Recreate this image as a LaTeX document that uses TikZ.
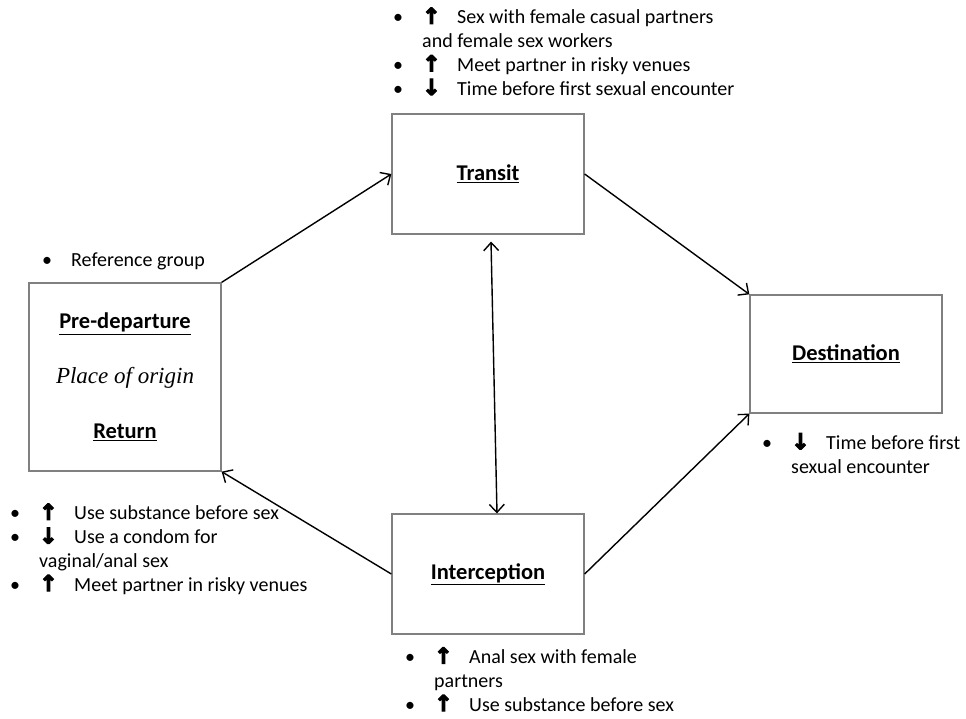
\documentclass[tikz,border=0pt]{standalone}
\usepackage{fontspec}
\setmainfont{Carlito}
\newfontface\arrowfont{DejaVu Sans Bold}[FakeBold=5]
\newfontfamily\timesfont{Liberation Serif}
\usetikzlibrary{arrows.meta,calc}

\newcommand{\basefont}{\fontsize{20}{23.7}\selectfont}
\newcommand{\up}{{\arrowfont\fontsize{22}{23.7}\selectfont ↑}}
\newcommand{\dn}{{\arrowfont\fontsize{22}{23.7}\selectfont ↓}}
\newcommand{\bul}{\makebox[29pt][l]{\textbullet}}
\newcommand{\litem}[2]{\bul\makebox[35pt][l]{#1}#2}
\newcommand{\wrapline}{\hspace*{29pt}}

\begin{document}
\begin{tikzpicture}[x=1pt, y=-1pt,
    stage/.style={rectangle, draw=gray, line width=1.3pt, align=center, font=\fontsize{22.5}{27}\selectfont\bfseries},
    flow/.style={-{Straight Barb[length=8pt,width=15pt,line width=1.4pt]}, line width=1.4pt},
    notes/.style={align=left, inner sep=0pt, anchor=base west, font=\basefont}
]
    \useasboundingbox (0,0) rectangle (966,718);

    \node[stage, minimum width=192pt, minimum height=120pt] (transit) at (488,174) {\underline{Transit}};
    \node[stage, minimum width=192pt, minimum height=188pt] (pre) at (125,377) {
        \underline{Pre-departure}\\[28pt]
        {\timesfont\mdseries\itshape\fontsize{23}{27}\selectfont Place of origin}\\[28pt]
        \underline{Return}
    };
    \node[stage, minimum width=192pt, minimum height=118pt] (dest) at (846,354) {\underline{Destination}};
    \node[stage, minimum width=192pt, minimum height=120pt] (inter) at (488,574) {\underline{Interception}};

    \draw[flow] (pre.north east) -- (transit.west);
    \draw[flow] (transit.east) -- (dest.north west);
    \draw[flow] (inter.east) -- (dest.south west);
    \draw[flow] (inter.west) -- (pre.south east);
    \draw[flow, {Straight Barb[length=8pt,width=15pt,line width=1.4pt]}-{Straight Barb[length=8pt,width=15pt,line width=1.4pt]}]
        ([xshift=3pt,yshift=-7pt]transit.south) -- ([xshift=9pt]inter.north);

    % Notes next to each stage
    \node[notes] (transitnotes) at (393,95) {
        \litem{\up}{Sex with female casual partners}\\
        \wrapline and female sex workers\\
        \litem{\up}{Meet partner in risky venues}\\
        \litem{\dn}{Time before first sexual encounter}
    };
    \node[notes] (prenotes) at (42,266) {\bul Reference group};
    \node[notes] (returnnotes) at (10,591) {
        \litem{\up}{Use substance before sex}\\
        \litem{\dn}{Use a condom for}\\
        \wrapline vaginal/anal sex\\
        \litem{\up}{Meet partner in risky venues}
    };
    \node[notes] (internotes) at (405,711) {
        \litem{\up}{Anal sex with female}\\
        \wrapline partners\\
        \litem{\up}{Use substance before sex}
    };
    \node[notes] (destnotes) at (762,473) {
        \litem{\dn}{Time before first}\\
        \wrapline sexual encounter
    };
\end{tikzpicture}
\end{document}
